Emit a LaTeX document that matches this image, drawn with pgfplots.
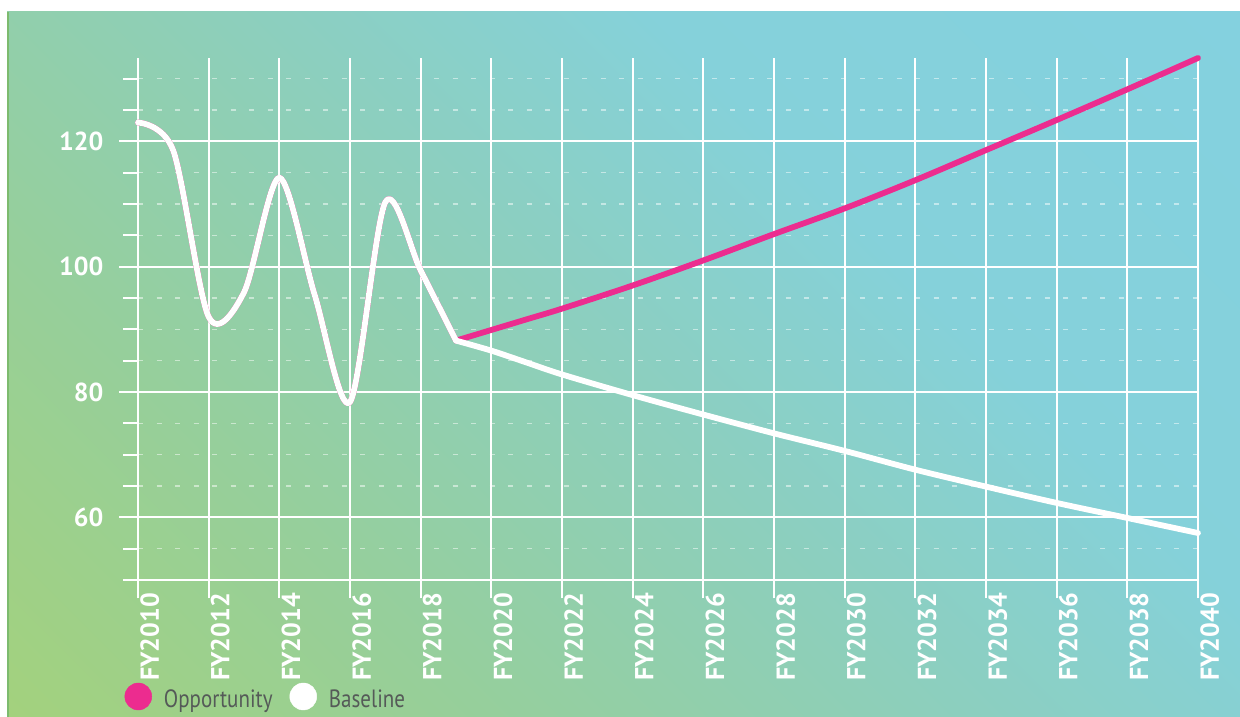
\documentclass[border=0pt]{standalone}
\usepackage{fontspec}
\setmainfont{PT Sans}
\newfontfamily\legfont{PT Sans}[FakeStretch=0.84]
\usepackage{pgfplots}
\pgfplotsset{compat=1.18}
\definecolor{pinkc}{HTML}{EC2C8F}
\definecolor{g0}{HTML}{A3D17D}
\definecolor{g1}{HTML}{96CF9B}
\definecolor{g2}{HTML}{8CCFBF}
\definecolor{g3}{HTML}{85D1DA}
\definecolor{g4}{HTML}{84D1DF}
\definecolor{legtext}{HTML}{555A58}
\definecolor{edgeg}{HTML}{7DBB6E}
\pgfdeclarehorizontalshading{bgshade}{100bp}{color(0bp)=(g0); color(14.6bp)=(g0); color(32bp)=(g1); color(50bp)=(g2); color(64bp)=(g3); color(85.4bp)=(g4); color(100bp)=(g4)}

\pgfplotstableread{
year value
2010 123.0
2011 118.5
2012 92.0
2013 95.9
2014 114.2
2015 95.5
2016 78.4
2017 110.3
2018 99.4
2019 88.2
}\history
\pgfplotstableread{
year value
2019 88.2
2020 89.9
2021 91.6
2022 93.3
2024 97.0
2026 101.0
2028 105.2
2030 109.3
2032 113.8
2034 118.6
2036 123.4
2038 128.3
2040 133.3
}\opportunity
\pgfplotstableread{
year value
2019 88.2
2020 86.6
2021 84.7
2022 82.8
2024 79.5
2026 76.4
2028 73.4
2030 70.6
2032 67.6
2034 64.9
2036 62.3
2038 59.9
2040 57.5
}\baseline

\begin{document}
\begin{tikzpicture}[x=1pt,y=1pt]
\fill[white] (0,0) rectangle (1240,717);
\shade[shading=bgshade, shading angle=45] (7,0) rectangle (1240,705);
\fill[edgeg] (7,0) rectangle (9,705);
\begin{axis}[
  at={(138pt,137pt)}, anchor=south west,
  scale only axis, width=1060pt, height=522pt,
  xmin=2010, xmax=2040, ymin=50, ymax=133.3,
  clip=false,
  axis line style={draw=none},
  tick pos=left,
  tick align=outside,
  major tick length=18.5pt, minor tick length=15pt,
  tick style={white, line width=2pt},
  xtick={2010,2012,...,2040},
  xticklabels={FY2010,FY2012,FY2014,FY2016,FY2018,FY2020,FY2022,FY2024,FY2026,FY2028,FY2030,FY2032,FY2034,FY2036,FY2038,FY2040},
  ytick={60,80,100,120},
  yticklabels={60,80,100,120},
  minor ytick={55,65,70,75,85,90,95,105,110,115,125,130},
  extra y ticks={50}, extra y tick labels={},
  extra y tick style={major tick length=15pt, ymajorgrids, major grid style={white, line width=2pt, solid}},
  xmajorgrids, ymajorgrids, yminorgrids,
  major grid style={white, line width=2pt},
  minor grid style={white, opacity=0.5, line width=1.5pt, dash pattern=on 5pt off 13.5pt},
  /pgf/number format/assume math mode=true,
  ticklabel style={font=\bfseries\fontsize{26}{30}\selectfont, text=white},
  xticklabel style={yshift=5.5pt, xshift=2pt, rotate=90, anchor=north east, inner sep=0pt},
  yticklabel style={xshift=-16pt, anchor=east, inner sep=0pt},
  legend columns=2,
  legend style={at={(axis description cs:0,0)}, anchor=west, xshift=-13.6pt, yshift=-116.5pt,
    draw=none, fill=none, font=\legfont\fontsize{25}{30}\selectfont, text=legtext,
    inner sep=0pt, nodes={inner sep=0pt},
    /tikz/every odd column/.append style={column sep=12pt},
    /tikz/every even column/.append style={column sep=17pt}},
]
\addlegendimage{legend image code/.code={\fill[pinkc] (13.3pt,2.5pt) circle (13.5pt);}}
\addlegendentry{Opportunity}
\addlegendimage{legend image code/.code={\fill[white] (13.3pt,2.5pt) circle (13.5pt);}}
\addlegendentry{Baseline}
% Opportunity (history part lies under the baseline)
\addplot[forget plot, pinkc, line width=5.8pt, smooth, line join=round, line cap=round] table[x=year, y=value] {\history};
\addplot[forget plot, pinkc, line width=5.8pt, smooth, line join=round, line cap=round] table[x=year, y=value] {\opportunity};
% Baseline
\addplot[forget plot, white, line width=5.8pt, smooth, line join=round, line cap=round] table[x=year, y=value] {\history};
\addplot[forget plot, white, line width=5.8pt, smooth, line join=round, line cap=round] table[x=year, y=value] {\baseline};
\end{axis}
\pgfresetboundingbox
\useasboundingbox (0,0) rectangle (1240,717);
\end{tikzpicture}
\end{document}
